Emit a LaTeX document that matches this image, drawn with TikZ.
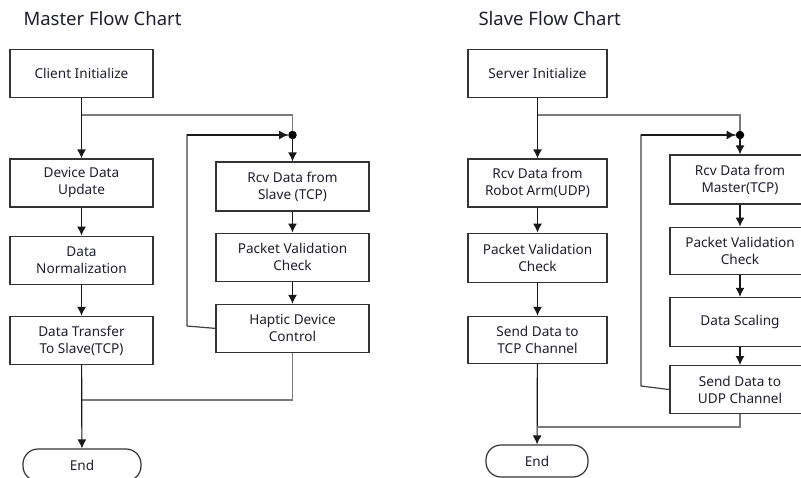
\documentclass[tikz,border=0pt]{standalone}
\usepackage{fontspec}
\setmainfont{Noto Sans}
\usepackage{tikz}
\usetikzlibrary{positioning,arrows.meta}

\definecolor{boxline}{HTML}{333333}
\definecolor{feedline}{HTML}{7A7A7A}
\definecolor{txt}{HTML}{1E1E2E}

\begin{document}
\begin{tikzpicture}[x=1pt,y=-1pt]
    \tikzstyle{box}=[rectangle, draw=boxline, line width=1.2pt, minimum height=48pt, inner sep=0pt, align=center, text=txt, font=\fontsize{13.6}{17}\selectfont]
    \tikzstyle{term}=[box, rounded corners=15pt, minimum height=32pt]
    \tikzstyle{chart title}=[anchor=west, text=txt, font=\fontsize{18.5}{22}\selectfont]
    \tikzstyle{connect}=[-{Latex[length=9pt,width=9pt]}, line width=1.2pt, black!90]
    \tikzstyle{feed}=[line width=1.3pt, feedline]
    \tikzstyle{back}=[line width=1.2pt, black!75]
    \tikzstyle{junction}=[circle, fill=black, inner sep=0pt, minimum size=8.5pt]
    \useasboundingbox (0,0) rectangle (801,477);

    % master
    \node[chart title] (mtitle) at (20,19) {Master Flow Chart};
    \node[box, minimum width=143pt] (cinit) at (81.5,73.5) {Client Initialize};
    \node[box, minimum width=143pt] (dev) at (81.5,183) {Device Data\\Update};
    \node[box, minimum width=143pt] (norm) [below=28pt of dev] {Data\\Normalization};
    \node[box, minimum width=143pt] (xfer) [below=31pt of norm] {Data Transfer\\To Slave(TCP)};
    \node[term, minimum width=118pt] (mend) at (82,465) {End};
    \node[box, minimum width=153pt, minimum height=49pt] (rcv) at (292.5,186.5) {Rcv Data from\\Slave (TCP)};
    \node[box, minimum width=153pt] (pvc) [below=21pt of rcv] {Packet Validation\\Check};
    \node[box, minimum width=153pt] (hap) [below=22pt of pvc] {Haptic Device\\Control};
    \node[junction] (mj) at (292.5,135) {};
    \coordinate (mb) at (81.5,115);
    \coordinate (mm) at (81.5,400);
    \coordinate (ml) at (187,326);

    \draw[feed] (mb) -| (mj.north);
    \draw[feed] (hap.south) |- (mm);
    \draw[back] (hap.west) -- (ml) |- (mj.west);
    \draw[connect] (ml |- mj) -- (mj.west);
    \draw[connect] (cinit) -- (dev);
    \draw[connect] (dev) -- (norm);
    \draw[connect] (norm) -- (xfer);
    \draw[connect] (xfer) -- (mend);
    \draw[connect] (mj) -- (rcv);
    \draw[connect] (rcv) -- (pvc);
    \draw[connect] (pvc) -- (hap);

    % slave
    \node[chart title] (stitle) at (475,19) {Slave Flow Chart};
    \node[box, minimum width=139pt] (sinit) at (537.5,73.5) {Server Initialize};
    \node[box, minimum width=139pt] (arm) at (537.5,183) {Rcv Data from\\Robot Arm(UDP)};
    \node[box, minimum width=139pt, minimum height=49pt] (spvc) [below=25pt of arm] {Packet Validation\\Check};
    \node[box, minimum width=139pt, minimum height=47pt] (tcp) [below=33pt of spvc] {Send Data to\\TCP Channel};
    \node[term, minimum width=102pt] (send) at (537,461) {End};
    \node[box, minimum width=140pt, minimum height=49pt] (mrcv) at (740,179.5) {Rcv Data from\\Master(TCP)};
    \node[box, minimum width=140pt, minimum height=47pt] (mpvc) [below=22pt of mrcv] {Packet Validation\\Check};
    \node[box, minimum width=140pt, minimum height=49pt] (scale) [below=22pt of mpvc] {Data Scaling};
    \node[box, minimum width=140pt] (udp) [below=18pt of scale] {Send Data to\\UDP Channel};
    \node[junction] (sj) at (740,135) {};
    \coordinate (sb) at (537.5,115);
    \coordinate (sm) at (537.5,427);
    \coordinate (sl) at (641,386);

    \draw[feed] (sb) -| (sj.north);
    \draw[feed] (udp.south) |- (sm);
    \draw[back] (udp.west) -- (sl) |- (sj.west);
    \draw[connect] (sl |- sj) -- (sj.west);
    \draw[connect] (sinit) -- (arm);
    \draw[connect] (arm) -- (spvc);
    \draw[connect] (spvc) -- (tcp);
    \draw[connect] (tcp) -- (send);
    \draw[connect] (sj) -- (mrcv);
    \draw[connect] (mrcv) -- (mpvc);
    \draw[connect] (mpvc) -- (scale);
    \draw[connect] (scale) -- (udp);
\end{tikzpicture}
\end{document}
